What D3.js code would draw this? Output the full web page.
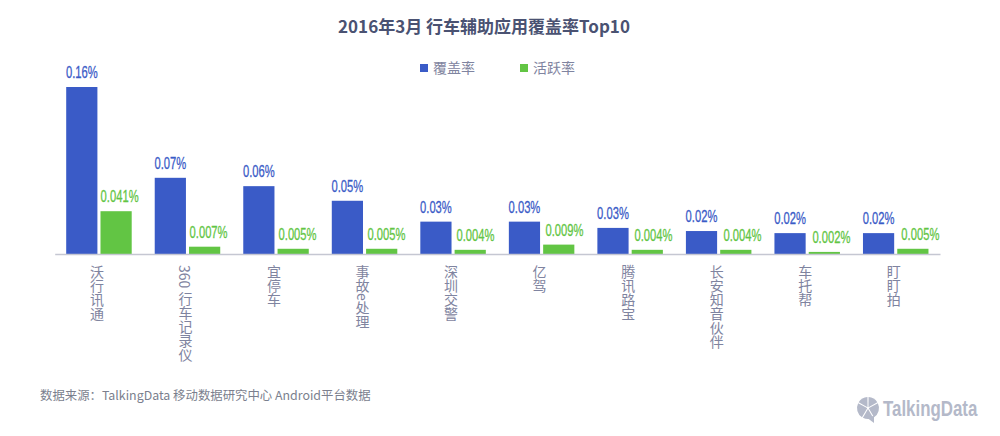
<!DOCTYPE html>
<html><head><meta charset="utf-8">
<script src="https://cdn.jsdelivr.net/npm/d3@7"></script>
<style>html,body{margin:0;padding:0;background:#fff}svg{display:block}</style>
</head><body><svg id="c" width="1000" height="436"></svg>
<script>
const categories=["沃行讯通","360 行车记录仪","宜停车","事故e处理","深圳交警","亿驾","腾讯路宝","长安知音伙伴","车托帮","盯盯拍"];
const coverage=[0.16,0.073,0.065,0.051,0.031,0.031,0.025,0.022,0.02,0.02];
const activity=[0.041,0.007,0.005,0.005,0.004,0.009,0.004,0.004,0.002,0.005];
const coverageLabels=["0.16%","0.07%","0.06%","0.05%","0.03%","0.03%","0.03%","0.02%","0.02%","0.02%"];
const activityLabels=["0.041%","0.007%","0.005%","0.005%","0.004%","0.009%","0.004%","0.004%","0.002%","0.005%"];
const seriesNames=["覆盖率","活跃率"];
const colors=["#3a5bc7","#62c544"];
const cjk='"Noto Sans CJK SC","Noto Sans",sans-serif';
const latin='"Liberation Sans",sans-serif';
const svg=d3.select("#c");
const x=d3.scaleBand().domain(categories).range([54.7,940]);
const inner=d3.scaleBand().domain(seriesNames).range([11.5,77]).paddingInner(0.09);
const y=d3.scaleLinear().domain([0,0.16]).range([254,87]);
const greenShift=d3.scaleLinear().domain([0,9]).range([3.5,7.5]);
svg.append("text").attr("x",484).attr("y",33).attr("text-anchor","middle")
 .attr("font-family",cjk).attr("font-size",17).attr("font-weight",700).attr("fill","#4a5272")
 .text("2016年3月 行车辅助应用覆盖率Top10");
[coverage,activity].forEach((vals,s)=>{
 const labs=s?activityLabels:coverageLabels;
 const g=svg.append("g");
 g.selectAll("rect").data(vals).join("rect")
  .attr("x",(d,i)=>x(categories[i])+inner(seriesNames[s])).attr("width",inner.bandwidth())
  .attr("y",d=>y(d)).attr("height",d=>y(0)-y(d)).attr("fill",colors[s]);
 g.selectAll("text").data(vals).join("text")
  .attr("transform",(d,i)=>{
    const cx=x(categories[i])+inner(seriesNames[s])+inner.bandwidth()/2+(s?greenShift(i):0);
    return `translate(${cx},${y(d)-9}) scale(0.68,1)`;})
  .attr("text-anchor","middle")
  .attr("font-family",latin).attr("font-size",16.5).attr("fill",colors[s])
  .attr("stroke",colors[s]).attr("stroke-width",0.3)
  .text((d,i)=>labs[i]);
});
const ax=svg.append("g").attr("transform","translate(0,254)").call(d3.axisBottom(x).tickSize(0));
ax.select(".domain").attr("stroke","#c5c7d2").attr("stroke-width",1.5);
ax.selectAll("text").attr("font-family",cjk).attr("font-size",14).attr("fill","#7f84a0")
 .style("writing-mode","vertical-rl").attr("dy",null).attr("y",11).attr("x",-2).attr("text-anchor","start");
const lx=[420,520];
seriesNames.forEach((n,i)=>{
 svg.append("rect").attr("x",lx[i]).attr("y",64).attr("width",8).attr("height",8).attr("fill",colors[i]);
 svg.append("text").attr("x",lx[i]+13).attr("y",73).attr("font-family",cjk).attr("font-size",14).attr("fill","#7f84a0").text(n);
});
svg.append("text").attr("x",40).attr("y",400).attr("font-family",cjk).attr("font-size",12.4).attr("fill","#7b7f8e")
 .text("数据来源：TalkingData 移动数据研究中心 Android平台数据");
// watermark logo: segmented speech bubble
const logoColor="#b4b9c9";
const logo=svg.append("g").attr("transform","translate(868,408)");
logo.selectAll("path.seg").data(d3.pie().sort(null).padAngle(0.1)([2,3,2,3,2])).join("path").attr("class","seg")
 .attr("d",d3.arc().innerRadius(1).outerRadius(11)).attr("fill",logoColor);
logo.append("path").attr("d","M-2,9L6,15L6,8Z").attr("fill",logoColor);
svg.append("text").attr("transform","translate(883,416) scale(0.75,1)").attr("font-family",latin).attr("font-weight",700).attr("font-size",22.5)
 .attr("fill",logoColor).text("TalkingData");
</script></body></html>
